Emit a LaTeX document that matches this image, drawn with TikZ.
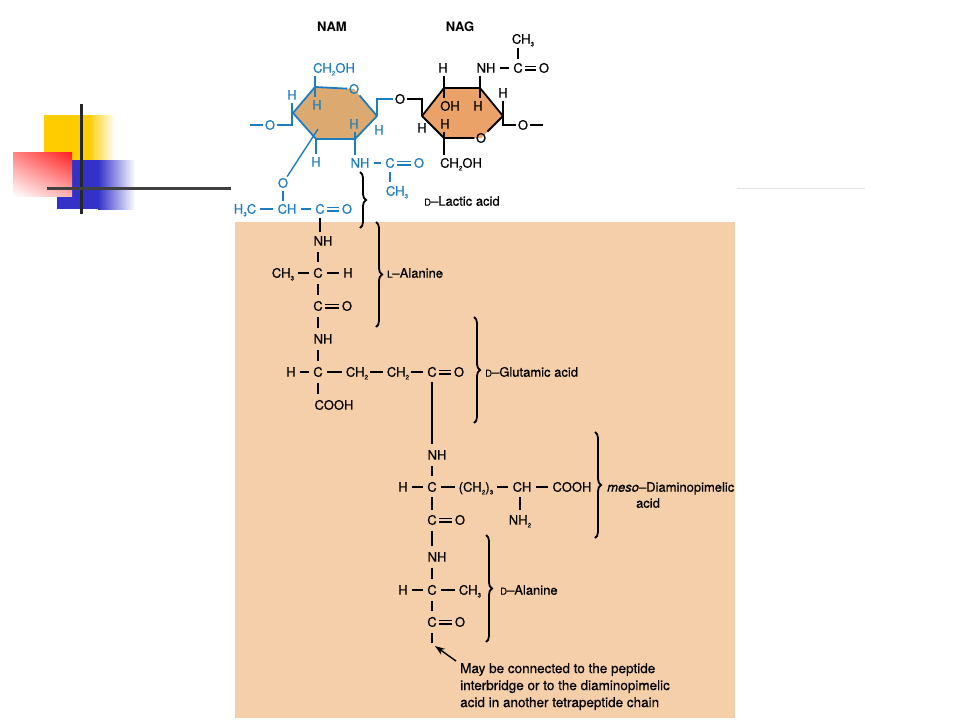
\documentclass[tikz,border=0pt]{standalone}
\usepackage{fontspec}
\setmainfont{TeX Gyre Heros}[UprightFeatures={FakeBold=0.6},ItalicFeatures={FakeBold=0.6}]
\usetikzlibrary{decorations.pathreplacing,arrows.meta,shadings}
\definecolor{chemblue}{RGB}{30,125,190}
\definecolor{namfill}{RGB}{220,170,112}
\definecolor{nagfill}{RGB}{234,162,104}
\definecolor{peach}{RGB}{245,207,169}
\definecolor{decoyellow}{RGB}{255,204,0}
\definecolor{decoblue}{RGB}{50,50,200}
\definecolor{decored}{RGB}{255,30,30}
\newcommand\sbs[1]{\raisebox{-0.4ex}{\fontsize{6.5}{6.5}\selectfont #1}}
\newcommand\smc[1]{{\fontsize{9.5}{9.5}\selectfont #1}}
\begin{document}
\begin{tikzpicture}[x=1pt,y=-1pt,
 atom/.style={inner sep=1.5pt, text height=9.4pt, text depth=0pt, font=\fontsize{13}{13}\selectfont},
 batom/.style={atom, text=chemblue},
 bond/.style={line width=1.4pt},
 hb/.style={bond, shorten <=2.5pt, shorten >=2.5pt},
 vb/.style={bond, shorten <=4.5pt, shorten >=4.5pt},
 db/.style={bond, shorten <=1pt, shorten >=1pt},
 ringedge/.style={line width=1.8pt, line join=round},
 bracestyle/.style={decorate, decoration={brace, amplitude=6pt}, line width=1.8pt},
 lbl/.style={inner sep=0pt, anchor=west, font=\fontsize{13}{13}\selectfont, text height=9.4pt, text depth=0pt},
]
\useasboundingbox (0,0) rectangle (960,720);
\fill[white] (0,0) rectangle (960,720);

% slide decoration
\fill[decoyellow] (44,115) rectangle (88,160);
\shade[left color=decoyellow, right color=white] (88,115) rectangle (115,160);
\fill[decoblue] (57,160) rectangle (98,209);
\shade[left color=decoblue, right color=white] (98,160) rectangle (135,209);
\shade[upper right=decored, upper left=decored!55!white, lower right=decored!35!white, lower left=white] (13,152) rectangle (72,196);
\draw[line width=3pt, black!85] (81,104) -- (81,214);
\draw[line width=3pt, black!75] (47,188) -- (231,188);
\draw[line width=1pt, black!12] (737,188) -- (865,188);

% peach background
\fill[peach] (235,222) rectangle (735,718);

% titles
\node[atom, font=\bfseries\fontsize{13}{13}\selectfont] (nam) at (332,27) {NAM};
\node[atom, font=\bfseries\fontsize{13}{13}\selectfont] (nag) at (460,27) {NAG};

% ---------- NAM ring ----------
\coordinate (A1) at (293,113);
\coordinate (A2) at (315,87);
\coordinate (A3) at (354,89);
\coordinate (A4) at (377,116);
\coordinate (A5) at (355,139);
\coordinate (A6) at (316,139);
\coordinate (Ain) at (318,129);
\fill[namfill] (A1)--(A2)--(A3)--(A4)--(A5)--(A6)--cycle;

% ---------- NAG ring ----------
\coordinate (B1) at (422,116);
\coordinate (B2) at (444,88);
\coordinate (B3) at (480,88);
\coordinate (B4) at (503,116);
\coordinate (B5) at (481,138);
\coordinate (B6) at (444,138);
\fill[nagfill] (B1)--(B2)--(B3)--(B4)--(B5)--(B6)--cycle;

% NAM atoms
\node[batom] (oR) at (A3) {O};
\node[batom] (cho1) at (334,68) {CH\sbs{2}OH};
\node[batom] (hTL) at (317,105) {H};
\node[batom] (hL) at (292,95) {H};
\node[batom] (oL) at (270,125) {O};
\coordinate (dL) at (250,125);
\node[batom] (hBL) at (316,162) {H};
\node[batom] (hBR) at (354,124) {H};
\node[batom] (hR) at (379,130) {H};
\node[batom] (nh1) at (360,163) {NH};
\node[batom] (c1) at (390,163) {C};
\node[batom] (o1) at (419,163) {O};
\node[batom] (ch3a) at (397,191) {CH\sbs{3}};
\node[atom] (og) at (400,99) {O};

% lactic acid atoms
\node[batom] (oLac) at (283,183) {O};
\node[batom] (chL) at (287,209) {CH};
\node[batom] (h3c) at (245,209) {H\sbs{3}C};
\node[batom] (c3) at (320,209) {C};
\node[batom] (o3) at (347,209) {O};

% NAG atoms
\node[atom] (oN) at (B5) {O};
\node[atom] (hTL2) at (443,68) {H};
\node[atom] (oh2) at (450,106) {OH};
\node[atom] (nh2) at (486,68) {NH};
\node[atom] (hTR2) at (478,106) {H};
\node[atom] (c2) at (518,68) {C};
\node[atom] (o2) at (544,68) {O};
\node[atom] (ch3b) at (523,39) {CH\sbs{3}};
\node[atom] (hR2) at (503,93) {H};
\node[atom] (oR2) at (523,125) {O};
\coordinate (dR) at (543,125);
\node[atom] (hL2) at (422,128) {H};
\node[atom] (hBL2) at (445,124) {H};
\node[atom] (cho2) at (461,163) {CH\sbs{2}OH};

% NAM ring edges and bonds
\begin{scope}[chemblue]
\draw[ringedge] (oR) -- (A4) -- (A5) -- (A6) -- (A1) -- (A2) -- (oR);
\draw[bond, shorten <=1.5pt, shorten >=1.5pt] (cho1.south -| A2) -- (hTL.north -| A2);
\draw[bond, shorten <=1.5pt] (hL.south) -- (hL.south |- oL.east) -- (oL.east);
\draw[bond] (oL.west) -- (dL);
\draw[bond, shorten >=1.5pt] (A6) -- (A6 |- hBL.north);
\draw[bond] (Ain) -- (oLac);
\draw[bond, shorten <=1.5pt, shorten >=1.5pt] (hBR.south -| A5) -- (nh1.north -| A5);
\draw[bond] (A4) -- (A4 |- og.west) -- (og.west);
\draw[hb] (nh1) -- (c1);
\draw[db] ([yshift=1.8pt]c1.east) -- ([yshift=1.8pt]o1.west);
\draw[db] ([yshift=-1.8pt]c1.east) -- ([yshift=-1.8pt]o1.west);
\draw[vb, shorten <=3pt, shorten >=3pt] (c1.south) -- (c1.south |- ch3a.north);
% lactic acid
\draw[bond, shorten <=1.5pt, shorten >=1.5pt] (oLac.south) -- (oLac.south |- chL.north);
\draw[hb] (h3c) -- (chL);
\draw[hb] (chL) -- (c3);
\draw[db] ([yshift=1.8pt]c3.east) -- ([yshift=1.8pt]o3.west);
\draw[db] ([yshift=-1.8pt]c3.east) -- ([yshift=-1.8pt]o3.west);
\end{scope}

% NAG ring edges and bonds
\draw[ringedge] (oN) -- (B6) -- (B1) -- (B2) -- (B3) -- (B4) -- (oN);
\draw[bond] (og.east) -- (og.east -| B1) -- (B1);
\draw[bond, shorten <=1.5pt, shorten >=1.5pt] (hTL2.south -| B2) -- (oh2.north -| B2);
\draw[bond, shorten <=1.5pt, shorten >=1.5pt] (nh2.south -| B3) -- (hTR2.north -| B3);
\draw[hb] (nh2) -- (c2);
\draw[db] ([yshift=1.8pt]c2.east) -- ([yshift=1.8pt]o2.west);
\draw[db] ([yshift=-1.8pt]c2.east) -- ([yshift=-1.8pt]o2.west);
\draw[bond, shorten <=3pt, shorten >=3pt] (c2.north) -- (c2.north |- ch3b.south);
\draw[bond, shorten <=1.5pt] (hR2.south -| B4) -- (B4) -- (B4 |- oR2.west) -- (oR2.west);
\draw[bond] (oR2.east) -- (dR);
\draw[bond, shorten <=1.5pt, shorten >=1.5pt] (hBL2.south -| B6) -- (cho2.north -| B6);

% ---------- tetrapeptide ----------
% L-alanine
\node[atom] (nh3) at (323,241) {NH};
\node[atom] (ch3c) at (283,273) {CH\sbs{3}};
\node[atom] (c4) at (318,273) {C};
\node[atom] (h4) at (348,273) {H};
\node[atom] (c5) at (318,306) {C};
\node[atom] (o5) at (347,306) {O};
% D-glutamic acid
\node[atom] (nh4) at (323,339) {NH};
\node[atom] (h6) at (291,372) {H};
\node[atom] (c6) at (318,372) {C};
\node[atom] (ch2a) at (357,372) {CH\sbs{2}};
\node[atom] (ch2b) at (398,372) {CH\sbs{2}};
\node[atom] (c7) at (432,372) {C};
\node[atom] (o7) at (459,372) {O};
\node[atom] (cooh1) at (334,405) {COOH};
% meso-DAP
\node[atom] (nh5) at (437,455) {NH};
\node[atom] (h8) at (403,487) {H};
\node[atom] (c8) at (432,487) {C};
\node[atom] (ch23) at (476,487) {(CH\sbs{2})\sbs{3}};
\node[atom] (ch9) at (522,487) {CH};
\node[atom] (cooh2) at (572,487) {COOH};
\node[atom] (nh2b) at (520,520) {NH\sbs{2}};
\node[atom] (c10) at (432,520) {C};
\node[atom] (o10) at (460,520) {O};
% D-alanine
\node[atom] (nh6) at (437,557) {NH};
\node[atom] (h11) at (403,590) {H};
\node[atom] (c11) at (432,590) {C};
\node[atom] (ch3d) at (470,590) {CH\sbs{3}};
\node[atom] (c12) at (432,622) {C};
\node[atom] (o12) at (460,622) {O};
\coordinate (endC) at (432,643);

% peptide bonds
\draw[bond, shorten <=3pt, shorten >=3pt] (c3.south) -- (c3.south |- nh3.north);
\draw[vb] (nh3.south -| c4) -- (c4.north);
\draw[hb] (ch3c) -- (c4);
\draw[hb] (c4) -- (h4);
\draw[vb] (c4.south) -- (c5.north);
\draw[db] ([yshift=1.8pt]c5.east) -- ([yshift=1.8pt]o5.west);
\draw[db] ([yshift=-1.8pt]c5.east) -- ([yshift=-1.8pt]o5.west);
\draw[vb] (c5.south) -- (c5.south |- nh4.north);
\draw[vb] (nh4.south -| c6) -- (c6.north);
\draw[hb] (h6) -- (c6);
\draw[hb] (c6) -- (ch2a);
\draw[hb, shorten <=0.5pt] (ch2a) -- (ch2b);
\draw[hb, shorten <=0.5pt] (ch2b) -- (c7);
\draw[db] ([yshift=1.8pt]c7.east) -- ([yshift=1.8pt]o7.west);
\draw[db] ([yshift=-1.8pt]c7.east) -- ([yshift=-1.8pt]o7.west);
\draw[vb] (c6.south) -- (c6.south |- cooh1.north);
\draw[bond, shorten <=4pt, shorten >=5pt] (c7.south) -- (c7.south |- nh5.north);
\draw[vb] (nh5.south -| c8) -- (c8.north);
\draw[hb] (h8) -- (c8);
\draw[hb] (c8) -- (ch23);
\draw[hb] (ch23) -- (ch9);
\draw[hb] (ch9) -- (cooh2);
\draw[bond, shorten <=4pt, shorten >=4pt] (c8.south) -- (c10.north);
\draw[bond, shorten <=4pt, shorten >=4pt] ([xshift=-2pt]ch9.south) -- ([xshift=-2pt]ch9.south |- nh2b.north);
\draw[db] ([yshift=1.8pt]c10.east) -- ([yshift=1.8pt]o10.west);
\draw[db] ([yshift=-1.8pt]c10.east) -- ([yshift=-1.8pt]o10.west);
\draw[vb] (c10.south) -- (c10.south |- nh6.north);
\draw[vb] (nh6.south -| c11) -- (c11.north);
\draw[hb] (h11) -- (c11);
\draw[hb] (c11) -- (ch3d);
\draw[vb] (c11.south) -- (c12.north);
\draw[db] ([yshift=1.8pt]c12.east) -- ([yshift=1.8pt]o12.west);
\draw[db] ([yshift=-1.8pt]c12.east) -- ([yshift=-1.8pt]o12.west);
\draw[bond, shorten <=4.5pt] (c12.south) -- (endC);

% braces and labels
\draw[bracestyle] (360,172) -- (360,228);
\node[lbl] (lacL) at (424,201) {\smc{D}–Lactic acid};
\draw[bracestyle] (376,222) -- (376,327);
\node[lbl] (alaL) at (387,273) {\smc{L}–Alanine};
\draw[bracestyle] (474,317) -- (474,423);
\node[lbl] (gluL) at (485,372) {\smc{D}–Glutamic acid};
\draw[bracestyle] (595,432) -- (595,538);
\node[lbl] (dapL) at (607,487) {\textit{meso}–Diaminopimelic};
\node[lbl, anchor=center] (dapL2) at (648,503) {acid};
\draw[bracestyle] (486,535) -- (486,642);
\node[lbl] (dalaL) at (500,590) {\smc{D}–Alanine};

% note and arrow
\node[font=\fontsize{13.5}{17}\selectfont, align=left, anchor=north west, inner sep=0pt] (note) at (460,663) {May be connected to the peptide\\interbridge or to the diaminopimelic\\acid in another tetrapeptide chain};
\coordinate (arrS) at (456,661);
\coordinate (arrT) at (435,646);
\draw[bond, -{Stealth[length=10pt,width=7pt]}] (arrS) -- (arrT);
\end{tikzpicture}
\end{document}
